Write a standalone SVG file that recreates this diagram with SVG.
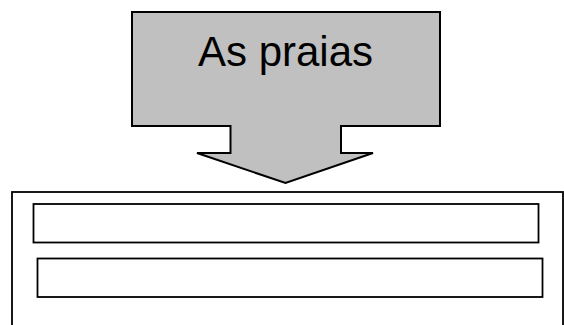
<svg xmlns="http://www.w3.org/2000/svg" width="564" height="325" viewBox="0 0 564 325">
  <style>
    .arrow { fill: #C0C0C0; stroke: #000; stroke-width: 2; stroke-linejoin: miter; }
    .box { fill: #FFFFFF; stroke: #000; stroke-width: 1.8; }
    .title { font-family: "Liberation Sans", Arial, sans-serif; font-size: 42px; fill: #000; }
  </style>
  <rect x="0" y="0" width="564" height="325" fill="#FFFFFF"/>
  <g id="arrow-node">
    <polygon class="arrow" points="132,12 440,12 440,126 341,126 341,153 373,153 285.5,183 197,153 230.5,153 230.5,126 132,126"/>
    <text class="title" x="285.5" y="66" text-anchor="middle">As praias</text>
  </g>
  <g id="container">
    <rect class="box" x="12" y="192" width="551" height="150"/>
  </g>
  <g id="row-1">
    <rect class="box" x="33.5" y="204" width="505" height="38.5"/>
  </g>
  <g id="row-2">
    <rect class="box" x="37.5" y="258.5" width="505" height="38.5"/>
  </g>
</svg>
